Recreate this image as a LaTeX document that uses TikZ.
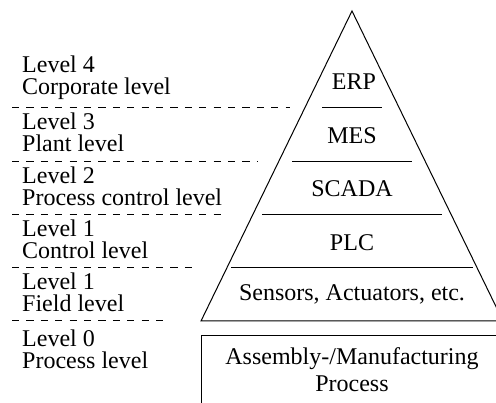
\documentclass[tikz,border=0pt]{standalone}
\usepackage{fontspec}
\setmainfont{Liberation Serif}
\begin{document}
\begin{tikzpicture}[x=1pt,y=-1pt,
  lbl/.style={anchor=north west,inner sep=0pt,align=left,
    font=\fontsize{24}{22}\selectfont},
  pyr/.style={anchor=base,inner sep=0pt,font=\fontsize{24}{28}\selectfont},
  sep/.style={line width=1pt,dash pattern=on 7.2pt off 7.2pt},
  solid line/.style={line width=1pt}]
\useasboundingbox (0,0) rectangle (496,403);
\clip (0,0) rectangle (496,403);
% pyramid
\coordinate (apex) at (352,11);
\coordinate (bl) at (201,321);
\coordinate (br) at (503,321);
\draw[solid line] (bl) -- (apex) -- (br) -- cycle;
% inner lines
\coordinate (a1) at (322,108); \coordinate (b1) at (382,108);
\coordinate (a2) at (292,162); \coordinate (b2) at (412,162);
\coordinate (a3) at (262,215); \coordinate (b3) at (442,215);
\coordinate (a4) at (231,268); \coordinate (b4) at (473,268);
\draw[solid line] (a1) -- (b1);
\draw[solid line] (a2) -- (b2);
\draw[solid line] (a3) -- (b3);
\draw[solid line] (a4) -- (b4);
% dashed separators
\coordinate (d1s) at (12,108); \coordinate (d1e) at (290,108);
\coordinate (d2s) at (12,162); \coordinate (d2e) at (258,162);
\coordinate (d3s) at (12,215); \coordinate (d3e) at (227,215);
\coordinate (d4s) at (12,268); \coordinate (d4e) at (197,268);
\coordinate (d5s) at (12,321); \coordinate (d5e) at (163,321);
\draw[sep] (d1s) -- (d1e);
\draw[sep] (d2s) -- (d2e);
\draw[sep] (d3s) -- (d3e);
\draw[sep] (d4s) -- (d4e);
\draw[sep] (d5s) -- (d5e);
% process box
\coordinate (p1) at (201,336); \coordinate (p2) at (540,440);
\draw[solid line] (p1) rectangle (p2);
% pyramid texts
\node[pyr] (erp) at (354,90) {ERP};
\node[pyr] (mes) at (352,144) {MES};
\node[pyr] (scada) at (352,197) {SCADA};
\node[pyr] (plc) at (352,251) {PLC};
\node[pyr] (sens) at (352,301) {Sensors, Actuators, etc.};
\node[pyr, align=center, font=\fontsize{24}{27}\selectfont, anchor=north] (asm) at (352,347) {Assembly-/Manufacturing\\Process};
% left labels (top = cap top of first line)
\node[lbl] (l4) at (22,56) {Level 4\\Corporate level};
\node[lbl] (l3) at (22,113) {Level 3\\Plant level};
\node[lbl] (l2) at (22,167) {Level 2\\Process control level};
\node[lbl] (l1) at (22,219.5) {Level 1\\Control level};
\node[lbl] (f1) at (22,273) {Level 1\\Field level};
\node[lbl] (l0) at (22,330) {Level 0\\Process level};
\end{tikzpicture}
\end{document}
